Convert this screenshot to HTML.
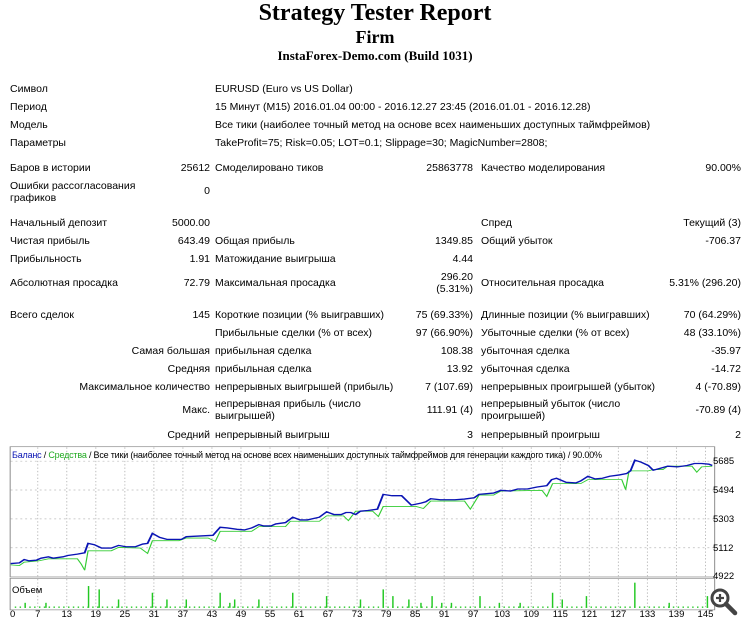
<!DOCTYPE html>
<html><head><meta charset="utf-8"><style>
body{margin:0;width:750px;height:629px;background:#fff;position:relative;overflow:hidden;font-family:"Liberation Sans","DejaVu Sans",sans-serif;font-size:10.5px;color:#000}
.t{position:absolute;white-space:nowrap;line-height:12px;z-index:2}
.h{position:absolute;left:0;width:750px;text-align:center;font-family:"Liberation Serif",serif;font-weight:bold}
svg{z-index:0}
</style></head><body>
<div class="h" style="top:0;font-size:24px;line-height:26px">Strategy Tester Report</div>
<div class="h" style="top:27px;font-size:18px;line-height:20px">Firm</div>
<div class="h" style="top:48px;font-size:13px;line-height:15px">InstaForex-Demo.com (Build 1031)</div>
<svg style="position:absolute;left:0;top:440px" width="750" height="189" viewBox="0 0 1550 563" preserveAspectRatio="none" id="ch">
<rect x="0" y="0" width="1550" height="563" fill="#fff"/>
<g id="grid" stroke="#bbb" stroke-dasharray="4,6" stroke-width="2"></g>
<rect x="21" y="20" width="1456" height="388" fill="none" stroke="#888" stroke-width="2"/>
<rect x="21" y="412" width="1456" height="94" fill="none" stroke="#888" stroke-width="2"/>
<g id="vol" stroke="#22c822" stroke-width="3"></g>
<polyline fill="none" stroke="#33cc33" stroke-width="2.5" points="22,372 40,374 50,364 80,360 100,354 160,354 168,370 175,388 182,330 230,330 245,320 290,322 305,338 315,300 370,300 385,292 430,292 445,302 455,272 520,272 535,258 590,258 600,242 660,242 675,226 710,226 720,240 735,212 770,212 782,228 792,198 850,198 860,198 875,204 890,182 960,182 972,206 990,164 1020,164 1035,152 1120,150 1130,168 1142,130 1200,130 1215,118 1285,118 1293,148 1300,92 1340,92 1350,88 1370,88 1380,78 1430,78 1440,96 1450,80 1472,78"/>
<polyline fill="none" stroke="#0a14b4" stroke-width="4" points="22,368 40,366 50,356 60,360 75,358 85,352 100,348 110,352 130,348 140,344 160,340 175,336 182,308 195,312 210,322 230,322 245,314 260,318 280,318 295,310 305,308 315,278 330,290 345,296 375,296 385,288 440,284 455,260 470,262 490,266 505,268 520,262 535,252 545,256 560,256 570,250 590,246 605,230 620,238 635,238 660,230 675,214 690,222 705,222 715,216 725,216 735,222 745,212 760,210 780,206 792,162 810,166 830,166 850,194 870,188 880,184 890,175 910,178 940,178 960,176 980,172 990,162 1020,158 1035,150 1055,152 1070,146 1090,146 1110,140 1130,136 1140,118 1150,114 1170,126 1190,128 1200,122 1215,108 1230,116 1245,114 1260,108 1280,104 1295,100 1303,92 1312,60 1325,66 1340,76 1350,90 1365,84 1380,78 1400,80 1420,76 1435,70 1450,70 1465,72 1472,76"/>
</svg>
<svg style="position:absolute;left:708px;top:586px;z-index:1" width="30" height="30" viewBox="0 0 30 30">
<circle cx="12" cy="12" r="8" fill="#fff" stroke="#444" stroke-width="3"/>
<line x1="18" y1="18" x2="27" y2="27" stroke="#444" stroke-width="4.5" stroke-linecap="round"/>
<line x1="8" y1="12" x2="16" y2="12" stroke="#444" stroke-width="2.2"/>
<line x1="12" y1="8" x2="12" y2="16" stroke="#444" stroke-width="2.2"/>
</svg>
<div id="tx"></div>
<script>
var T=[];
function L(x,y,s,st){T.push('<div class="t" style="left:'+x+'px;top:'+(y-6)+'px;'+(st||'')+'">'+s+'</div>');}
function R(x,y,s,st){T.push('<div class="t" style="right:'+(750-x)+'px;top:'+(y-6)+'px;text-align:right;'+(st||'')+'">'+s+'</div>');}
var A=210,B=215,C=473,D=481,E=741;
L(10,89,'Символ');L(215,89,'EURUSD (Euro vs US Dollar)');
L(10,107,'Период');L(215,107,'15 Минут (M15) 2016.01.04 00:00 - 2016.12.27 23:45 (2016.01.01 - 2016.12.28)');
L(10,125,'Модель');L(215,125,'Все тики (наиболее точный метод на основе всех наименьших доступных таймфреймов)');
L(10,143,'Параметры');L(215,143,'TakeProfit=75; Risk=0.05; LOT=0.1; Slippage=30; MagicNumber=2808;');
L(10,168,'Баров в истории');R(A,168,'25612');L(B,168,'Смоделировано тиков');R(C,168,'25863778');L(D,168,'Качество моделирования');R(E,168,'90.00%');
L(10,186,'Ошибки рассогласования');L(10,198,'графиков');R(A,191,'0');
L(10,223,'Начальный депозит');R(A,223,'5000.00');L(D,223,'Спред');R(E,223,'Текущий (3)');
L(10,241,'Чистая прибыль');R(A,241,'643.49');L(B,241,'Общая прибыль');R(C,241,'1349.85');L(D,241,'Общий убыток');R(E,241,'-706.37');
L(10,259,'Прибыльность');R(A,259,'1.91');L(B,259,'Матожидание выигрыша');R(C,259,'4.44');
L(10,283,'Абсолютная просадка');R(A,283,'72.79');L(B,283,'Максимальная просадка');R(C,277,'296.20');R(C,289,'(5.31%)');L(D,283,'Относительная просадка');R(E,283,'5.31% (296.20)');
L(10,315,'Всего сделок');R(A,315,'145');L(B,315,'Короткие позиции (% выигравших)');R(C,315,'75 (69.33%)');L(D,315,'Длинные позиции (% выигравших)');R(E,315,'70 (64.29%)');
L(B,333,'Прибыльные сделки (% от всех)');R(C,333,'97 (66.90%)');L(D,333,'Убыточные сделки (% от всех)');R(E,333,'48 (33.10%)');
R(A,351,'Самая большая');L(B,351,'прибыльная сделка');R(C,351,'108.38');L(D,351,'убыточная сделка');R(E,351,'-35.97');
R(A,369,'Средняя');L(B,369,'прибыльная сделка');R(C,369,'13.92');L(D,369,'убыточная сделка');R(E,369,'-14.72');
R(A,387,'Максимальное количество');L(B,387,'непрерывных выигрышей (прибыль)');R(C,387,'7 (107.69)');L(D,387,'непрерывных проигрышей (убыток)');R(E,387,'4 (-70.89)');
R(A,410,'Макс.');L(B,404,'непрерывная прибыль (число');L(B,416,'выигрышей)');R(C,410,'111.91 (4)');L(D,404,'непрерывный убыток (число');L(D,416,'проигрышей)');R(E,410,'-70.89 (4)');
R(A,435,'Средний');L(B,435,'непрерывный выигрыш');R(C,435,'3');L(D,435,'непрерывный проигрыш');R(E,435,'2');
var s='font-size:9.5px;';
T.push('<div class="t" style="left:12px;top:449px;font-size:9px;letter-spacing:-0.2px"><span style="color:#0a14b4">Баланс</span> / <span style="color:#22aa22">Средства</span> / Все тики (наиболее точный метод на основе всех наименьших доступных таймфреймов для генерации каждого тика) / 90.00%</div>');
[[5685,461],[5494,490],[5303,519],[5112,548],[4922,576]].forEach(function(v){L(713,v[1]+1,v[0],s);});
L(12,591,'Объем',s);
var zs=[];
T.push('<div class="t" style="left:10px;top:609px;font-size:9.5px">0</div>');
for(var k=0;k<=23;k++){var z=78+60*k;zs.push(z);var x=z/2.0667;T.push('<div class="t" style="left:'+(x-10)+'px;width:20px;text-align:center;top:609px;font-size:9.5px">'+(7+6*k)+'</div>');}
document.getElementById('tx').innerHTML=T.join('');
var gr='';
zs.forEach(function(X){gr+='<line x1="'+X+'" y1="22" x2="'+X+'" y2="406"/><line x1="'+X+'" y1="414" x2="'+X+'" y2="504"/>';});
[63,149,235,321].forEach(function(y){gr+='<line x1="22" y1="'+y+'" x2="1476" y2="'+y+'"/>';});
document.getElementById('grid').innerHTML=gr;
var vb=[[183,435],[205,445],[245,475],[315,455],[345,475],[385,475],[455,455],[475,485],[485,475],[535,475],[605,455],[675,465],[745,475],[792,445],[812,465],[845,475],[870,485],[893,465],[913,485],[933,485],[992,465],[1032,485],[1075,485],[1142,455],[1162,475],[1212,465],[1312,425],[1383,485],[1462,465],[52,485],[95,485]];
var v='';
for(var x=32;x<1470;x+=10)v+='<line x1="'+x+'" y1="496" x2="'+x+'" y2="500"/>';
vb.forEach(function(b){v+='<line x1="'+b[0]+'" y1="'+b[1]+'" x2="'+b[0]+'" y2="500"/>';});
document.getElementById('vol').innerHTML=v;
</script>
</body></html>
